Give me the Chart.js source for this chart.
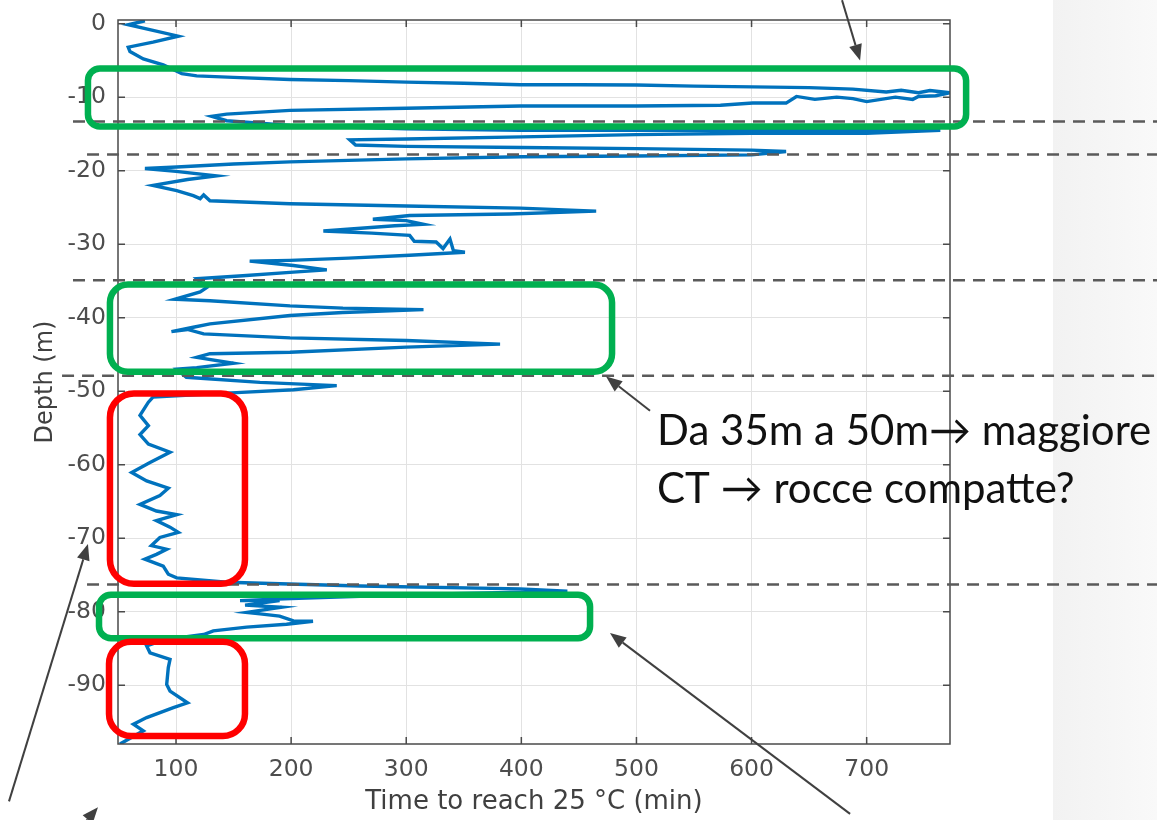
<!DOCTYPE html>
<html>
<head>
<meta charset="utf-8">
<script src="https://cdn.jsdelivr.net/npm/chart.js@4/dist/chart.umd.min.js"></script>
<style>
  html, body { margin: 0; padding: 0; background: #fff; }
  #wrap { width: 1157px; height: 820px; position: relative; }
</style>
</head>
<body>
<div id="wrap"><canvas id="profile" width="1157" height="820"></canvas></div>
<script>
// time to reach 25 °C (min), read along the trace from the surface down
const timeMin = [
  73, 58.5, 80, 102, 80, 58.5, 60, 71.6, 88.9, 105, 118, 150, 199, 250, 300, 350, 399, 450, 500, 550,
  601, 650, 688, 717, 730, 745, 755, 772, 760, 745, 740, 725, 700, 688, 674, 655, 639, 630, 601, 573,
  500, 450, 399, 300, 199, 144, 131, 144, 199, 300, 399, 500, 601, 700, 764, 700, 600, 500, 400, 300,
  251, 256, 300, 400, 500, 600, 630, 600, 500, 400, 300, 199, 150, 100.6, 73, 100, 135, 110, 80, 100.6,
  115, 121, 124, 129.5, 199, 300, 399, 465, 390, 303, 271, 300, 315, 290, 228, 270, 303, 307, 326, 332,
  338, 341, 351, 303, 250, 199, 164, 202, 231, 202, 158, 118, 126.6, 121, 99, 129.5, 199, 245, 315, 245,
  199, 129.5, 115, 96, 110, 124, 199, 300, 381.5, 300, 199, 129.5, 118, 150, 118, 100.6, 109, 173, 239.6, 202,
  152.6, 80, 76, 68.7, 76, 68.7, 76, 94.8, 77.4, 61.5, 74.5, 93.3, 86, 68.7, 83, 100.6, 83, 94.8, 102, 86,
  78.6, 91.9, 83, 72.9, 88.9, 93.3, 100.6, 144, 260, 399, 440, 300, 200, 155.6, 190, 160, 191.8, 161.4, 173, 190,
  202, 219, 196, 161.4, 132.4, 124, 90, 74.5, 77.4, 94.8, 93.3, 91.9, 94.8, 110, 97.7, 74.5, 63, 71.6, 51.3
];
// depth (m), same order
const depthM = [
  0.4, -0.15, -0.9, -1.7, -2.5, -3.2, -3.8, -4.8, -5.6, -6.8, -7.1, -7.3, -7.6, -7.75, -7.95, -8.1, -8.3, -8.3, -8.35, -8.5,
  -8.6, -8.7, -8.9, -9.3, -9.05, -9.4, -9.1, -9.4, -9.8, -9.9, -10.3, -10.0, -10.6, -10.2, -10.0, -10.3, -9.9, -10.8, -10.8, -11.1,
  -11.2, -11.2, -11.2, -11.5, -11.8, -12.3, -12.6, -13.2, -13.85, -14.3, -14.5, -14.5, -14.5, -14.55, -14.5, -14.9, -14.9, -15.1, -15.4, -15.7,
  -15.8, -16.5, -16.7, -16.85, -17.0, -17.2, -17.4, -17.85, -18.0, -18.1, -18.4, -18.8, -19.1, -19.5, -19.7, -20.1, -20.7, -21.2, -22.0, -22.7,
  -23.4, -23.8, -23.3, -24.1, -24.5, -24.8, -25.1, -25.5, -25.9, -26.1, -26.6, -26.8, -27.3, -27.5, -28.2, -28.5, -28.8, -29.6, -29.7, -30.6,
  -29.3, -30.9, -31.1, -31.5, -31.9, -32.2, -32.3, -32.9, -33.5, -33.8, -34.3, -34.7, -35.9, -36.5, -37.5, -37.7, -38.4, -38.7, -38.9, -39.3,
  -39.7, -40.85, -41.3, -41.9, -41.6, -42.2, -42.75, -43.1, -43.6, -44.0, -44.7, -44.9, -45.4, -46.2, -46.8, -47.0, -48.1, -48.8, -49.25, -49.8,
  -50.2, -50.8, -51.5, -53.3, -54.7, -55.9, -57.2, -58.3, -59.7, -61.05, -62.2, -63.2, -64.2, -65.4, -66.3, -66.8, -67.6, -68.5, -69.2, -69.9,
  -71.0, -71.5, -72.2, -72.85, -73.8, -74.9, -75.4, -76.0, -76.5, -76.9, -77.2, -77.7, -78.2, -78.5, -78.5, -79.1, -79.4, -80.1, -80.3, -80.6,
  -81.25, -81.3, -81.7, -82.1, -82.6, -83.1, -83.8, -84.65, -85.6, -86.5, -87.6, -89.9, -90.8, -92.4, -93.05, -94.4, -95.3, -96.2, -98.0
];

const xTicks = [100, 200, 300, 400, 500, 600, 700];
const yTicks = [0, -10, -20, -30, -40, -50, -60, -70, -80, -90];

// slide annotations, placed in data units
const layerDepths = [-13.3, -17.8, -34.9, -47.9, -76.3];
const layerStart = [10.5, 22.7, 10.5, 1.0, 22.7];

const greenBoxes = [
  { t0: 23.5, t1: 786.4, d0: -6.1, d1: -14.0, r: 12 },
  { t0: 42.6, t1: 478.8, d0: -35.5, d1: -47.35, r: 18 },
  { t0: 33.1, t1: 459.7, d0: -77.7, d1: -83.6, r: 12 }
];
const redBoxes = [
  { t0: 42.6, t1: 159.9, d0: -50.3, d1: -76.2, r: 24 },
  { t0: 41.8, t1: 159.9, d0: -84.1, d1: -96.9, r: 22 }
];
const arrows = [
  [678.6, 3.2, 694.3, -5.0],
  [511.8, -52.65, 473.6, -48.0],
  [-45.1, -105.8, 23.5, -70.8],
  [14.9, -109.8, 32.2, -106.6],
  [685.6, -107.5, 477.0, -82.9]
];
const note = ["Da 35m a 50m\u2192 maggiore", "CT \u2192 rocce compatte?"];

const points = timeMin.map((t, i) => ({ x: t, y: depthM[i] }));

function roundBox(ctx, x0, y0, x1, y1, r) {
  ctx.beginPath();
  ctx.moveTo(x0 + r, y0);
  ctx.arcTo(x1, y0, x1, y1, r);
  ctx.arcTo(x1, y1, x0, y1, r);
  ctx.arcTo(x0, y1, x0, y0, r);
  ctx.arcTo(x0, y0, x1, y0, r);
  ctx.closePath();
  ctx.stroke();
}

const boxPlugin = {
  id: "boxPlugin",
  beforeDraw(chart) {
    const ctx = chart.ctx;
    ctx.save();
    ctx.fillStyle = "#fff";
    ctx.fillRect(0, 0, chart.width, chart.height);
    const g = ctx.createLinearGradient(1053, 0, 1157, 0);
    g.addColorStop(0, "#f2f2f2");
    g.addColorStop(1, "#f9f9f9");
    ctx.fillStyle = g;
    ctx.fillRect(1053, 0, 104, chart.height);
    ctx.restore();
  },
  afterDatasetsDraw(chart) {
    const { ctx, chartArea: a, scales } = chart;
    ctx.save();
    ctx.strokeStyle = "#4a4a4a";
    ctx.lineWidth = 1.5;
    ctx.strokeRect(a.left, a.top, a.right - a.left, a.bottom - a.top);
    ctx.beginPath();
    xTicks.forEach(v => {
      const px = scales.x.getPixelForValue(v);
      ctx.moveTo(px, a.bottom); ctx.lineTo(px, a.bottom - 7);
      ctx.moveTo(px, a.top); ctx.lineTo(px, a.top + 7);
    });
    yTicks.forEach(v => {
      const py = scales.y.getPixelForValue(v);
      ctx.moveTo(a.left, py); ctx.lineTo(a.left + 7, py);
      ctx.moveTo(a.right, py); ctx.lineTo(a.right - 7, py);
    });
    ctx.stroke();
    ctx.restore();
  },
  afterDraw(chart) {
    const { ctx, scales } = chart;
    const X = v => scales.x.getPixelForValue(v);
    const Y = v => scales.y.getPixelForValue(v);
    ctx.save();

    // dashed layer boundaries
    ctx.strokeStyle = "#5a5a5a";
    ctx.lineWidth = 2.5;
    ctx.setLineDash([12, 8]);
    layerDepths.forEach((d, i) => {
      ctx.beginPath();
      ctx.moveTo(X(layerStart[i]), Y(d));
      ctx.lineTo(chart.width, Y(d));
      ctx.stroke();
    });
    ctx.setLineDash([]);

    ctx.lineWidth = 6.5;
    ctx.strokeStyle = "#00b050";
    greenBoxes.forEach(b => roundBox(ctx, X(b.t0), Y(b.d0), X(b.t1), Y(b.d1), b.r));
    ctx.strokeStyle = "#ff0000";
    redBoxes.forEach(b => roundBox(ctx, X(b.t0), Y(b.d0), X(b.t1), Y(b.d1), b.r));

    // arrows
    ctx.strokeStyle = "#404040";
    ctx.fillStyle = "#404040";
    ctx.lineWidth = 2;
    arrows.forEach(([t0, d0, t1, d1]) => {
      const x0 = X(t0), y0 = Y(d0), x1 = X(t1), y1 = Y(d1);
      const ang = Math.atan2(y1 - y0, x1 - x0);
      const len = 16, hw = 6.5;
      const bx = x1 - len * Math.cos(ang), by = y1 - len * Math.sin(ang);
      ctx.beginPath();
      ctx.moveTo(x0, y0);
      ctx.lineTo(bx, by);
      ctx.stroke();
      ctx.beginPath();
      ctx.moveTo(x1, y1);
      ctx.lineTo(bx + hw * Math.sin(ang), by - hw * Math.cos(ang));
      ctx.lineTo(bx - hw * Math.sin(ang), by + hw * Math.cos(ang));
      ctx.closePath();
      ctx.fill();
    });

    // note text
    ctx.fillStyle = "#111";
    ctx.textBaseline = "alphabetic";
    ctx.font = "42px Lato";
    ctx.fillText(note[0], X(517.9), Y(-57.3));
    ctx.fillText(note[1], X(517.9), Y(-65.2));
    ctx.restore();
  }
};

new Chart(document.getElementById("profile"), {
  type: "scatter",
  data: {
    datasets: [{
      data: points,
      showLine: true,
      borderColor: "#0072bd",
      borderWidth: 3.4,
      pointRadius: 0,
      tension: 0
    }]
  },
  options: {
    responsive: false,
    animation: false,
    layout: { padding: { left: 0, right: 207, top: 20, bottom: 0 } },
    plugins: { legend: { display: false }, tooltip: { enabled: false } },
    scales: {
      x: {
        type: "linear",
        min: 49.6,
        max: 772.4,
        afterFit: s => { s.height = 76; s.paddingLeft = 0; s.paddingRight = 0; },
        ticks: {
          stepSize: 100, includeBounds: false, padding: 12,
          color: "#4d4d4d", font: { family: "DejaVu Sans", size: 23.5 }
        },
        grid: { color: "#e2e2e2", drawTicks: false },
        border: { display: false },
        title: {
          display: true, text: "Time to reach 25 °C (min)",
          color: "#404040", font: { family: "DejaVu Sans", size: 26 },
          padding: { top: 0, bottom: 2 }
        }
      },
      y: {
        type: "linear",
        min: -98,
        max: 0.5,
        afterFit: s => { s.width = 118; s.paddingTop = 0; s.paddingBottom = 0; },
        ticks: {
          stepSize: 10, includeBounds: false, padding: 12,
          color: "#4d4d4d", font: { family: "DejaVu Sans", size: 23.5 }
        },
        grid: { color: "#e2e2e2", drawTicks: false },
        border: { display: false },
        title: {
          display: true, text: "Depth (m)",
          color: "#404040", font: { family: "DejaVu Sans", size: 24 },
          padding: { top: 31, bottom: 0 }
        }
      }
    }
  },
  plugins: [boxPlugin]
});
</script>
</body>
</html>
